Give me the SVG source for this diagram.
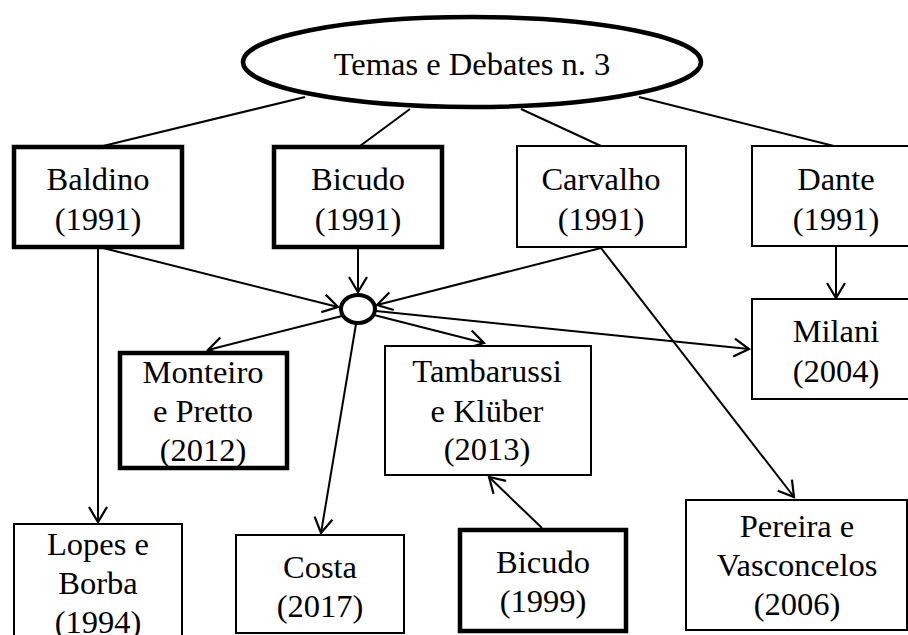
<svg xmlns="http://www.w3.org/2000/svg" width="908" height="635" viewBox="0 0 908 635">
<defs>
<marker id="arr" markerUnits="userSpaceOnUse" markerWidth="40" markerHeight="40" viewBox="-20 -20 40 40" refX="0" refY="0" orient="auto">
<path d="M-15,-9 L0,0 L-15,9" fill="none" stroke="#000" stroke-width="2.2"/>
</marker>
<style>
.t{font-family:"Liberation Serif","Times New Roman","DejaVu Serif",serif;font-size:32.5px;fill:#000;text-anchor:middle}
.thin{fill:#fff;stroke:#000;stroke-width:2}
.thick{fill:#fff;stroke:#000;stroke-width:4.5}
.c line{stroke:#000;stroke-width:2}
.c .a{marker-end:url(#arr)}
</style>
</defs>
<rect width="908" height="635" fill="#fff"/>
<g class="c" id="connectors">
<line x1="305" y1="97" x2="103" y2="146"/>
<line x1="410" y1="109" x2="360" y2="146"/>
<line x1="521" y1="109" x2="601" y2="146"/>
<line x1="639" y1="97" x2="834" y2="146"/>
<line class="a" x1="358" y1="248" x2="358" y2="292"/>
<line class="a" x1="103" y1="248" x2="338" y2="307"/>
<line class="a" x1="601" y1="248" x2="377" y2="305"/>
<line class="a" x1="98" y1="248" x2="98" y2="522"/>
<line class="a" x1="342" y1="316" x2="208" y2="350"/>
<line class="a" x1="356" y1="324" x2="321" y2="533"/>
<line class="a" x1="374" y1="315" x2="484" y2="343"/>
<line class="a" x1="376" y1="311" x2="749" y2="349"/>
<line class="a" x1="601" y1="248" x2="794" y2="497"/>
<line class="a" x1="836" y1="246" x2="836" y2="298"/>
<line class="a" x1="542" y1="528" x2="489" y2="477"/>
</g>
<g id="root">
<ellipse cx="472" cy="62" rx="229" ry="45" fill="#fff" stroke="#000" stroke-width="4.5"/>
<text class="t" x="472" y="75">Temas e Debates n. 3</text>
</g>
<g id="hub">
<ellipse cx="358" cy="309" rx="17" ry="14" fill="#fff" stroke="#000" stroke-width="4"/>
</g>
<g id="baldino">
<rect class="thick" x="14" y="147" width="168" height="100"/>
<text class="t" x="98" y="190">Baldino</text>
<text class="t" x="98" y="230">(1991)</text>
</g>
<g id="bicudo1991">
<rect class="thick" x="274" y="147" width="168" height="100"/>
<text class="t" x="358" y="190">Bicudo</text>
<text class="t" x="358" y="230">(1991)</text>
</g>
<g id="carvalho">
<rect class="thin" x="517" y="146" width="169" height="101"/>
<text class="t" x="601" y="190">Carvalho</text>
<text class="t" x="601" y="230">(1991)</text>
</g>
<g id="dante">
<rect class="thin" x="752" y="146" width="170" height="100"/>
<text class="t" x="836" y="190">Dante</text>
<text class="t" x="836" y="230">(1991)</text>
</g>
<g id="milani">
<rect class="thin" x="752" y="299" width="170" height="100"/>
<text class="t" x="836" y="342">Milani</text>
<text class="t" x="836" y="382">(2004)</text>
</g>
<g id="monteiro">
<rect class="thick" x="120" y="353" width="167" height="115"/>
<text class="t" x="203" y="383">Monteiro</text>
<text class="t" x="203" y="422">e Pretto</text>
<text class="t" x="203" y="461">(2012)</text>
</g>
<g id="tambarussi">
<rect class="thin" x="385" y="346" width="206" height="129"/>
<text class="t" x="487" y="382">Tambarussi</text>
<text class="t" x="487" y="422">e Klüber</text>
<text class="t" x="487" y="460">(2013)</text>
</g>
<g id="lopes">
<rect class="thin" x="14" y="524" width="168" height="120"/>
<text class="t" x="98" y="555">Lopes e</text>
<text class="t" x="98" y="594">Borba</text>
<text class="t" x="98" y="633">(1994)</text>
</g>
<g id="costa">
<rect class="thin" x="236" y="535" width="168" height="98"/>
<text class="t" x="320" y="578">Costa</text>
<text class="t" x="320" y="617">(2017)</text>
</g>
<g id="bicudo1999">
<rect class="thick" x="460" y="530" width="166" height="101"/>
<text class="t" x="543" y="573">Bicudo</text>
<text class="t" x="543" y="612">(1999)</text>
</g>
<g id="pereira">
<rect class="thin" x="686" y="500" width="221" height="130"/>
<text class="t" x="797" y="537">Pereira e</text>
<text class="t" x="797" y="576">Vasconcelos</text>
<text class="t" x="797" y="615">(2006)</text>
</g>
</svg>
